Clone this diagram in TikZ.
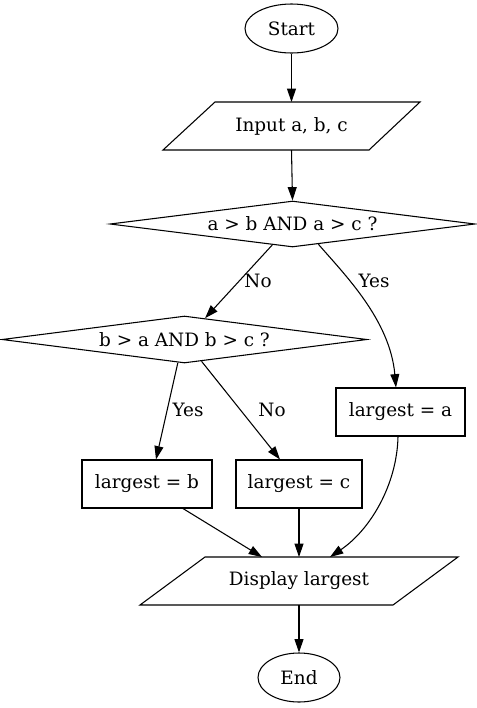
\documentclass[tikz,border=0pt]{standalone}
\usepackage{fontspec}
\setmainfont{DejaVu Serif}
\usetikzlibrary{shapes.geometric,arrows.meta,calc}
\begin{document}
\begin{tikzpicture}[x=0.75pt,y=-0.75pt,
  every node/.style={font=\fontsize{13.8}{16}\selectfont},
  term/.style={draw,ellipse,line width=0.8pt,inner sep=0pt},
  procbox/.style={draw,rectangle,line width=0.8pt,inner sep=0pt,minimum height=36pt},
  decide/.style={draw,diamond,aspect=7.9,inner sep=0pt,line width=0.8pt,minimum width=273.75pt},
  iotext/.style={inner sep=0pt},
  iobox/.style={line width=0.8pt},
  arr/.style={-{Triangle[length=10pt,width=6.7pt]},line width=0.8pt},
  elabel/.style={inner sep=0pt}]
\useasboundingbox (0,0) rectangle (477,708);
% nodes
\node[term,minimum width=69.75pt,minimum height=36.75pt] (start) at (291.5,28.5) {Start};
\node[iotext] (in) at (291.5,126) {Input a, b, c};
\draw[iobox] ($(in)+(-76.5,-24)$) -- ($(in)+(128.5,-24)$) -- ($(in)+(77.5,24)$) -- ($(in)+(-128.5,24)$) -- cycle;
\node[decide,minimum height=34.5pt] (d1) at (292.5,224) {a > b AND a > c ?};
\node[decide,minimum height=35.25pt] (d2) at (184.5,339.5) {b > a AND b > c ?};
\node[procbox,minimum width=96.75pt] (a) at (400.5,412) {largest = a};
\node[procbox,minimum width=97.5pt] (b) at (147,484) {largest = b};
\node[procbox,minimum width=94.5pt] (c) at (299,484) {largest = c};
\node[iotext] (disp) at (299,581) {Display largest};
\draw[iobox] ($(disp)+(-94,-24)$) -- ($(disp)+(159,-24)$) -- ($(disp)+(94,24)$) -- ($(disp)+(-159,24)$) -- cycle;
\node[term,minimum width=61.5pt,minimum height=36.75pt] (end) at (299,677.5) {End};
% connector end points
\coordinate (inN) at ($(in)+(0,-24)$);
\coordinate (inS) at ($(in)+(0,24)$);
\coordinate (aN) at ($(a.north)+(-4.5,0)$);
\coordinate (aS) at ($(a.south)+(-2.5,0)$);
\coordinate (bN) at ($(b.north)+(9,0)$);
\coordinate (bS) at ($(b.south)+(36,0)$);
\coordinate (cN) at ($(c.north)+(-19,0)$);
\coordinate (dispNb) at ($(disp)+(-37,-24)$);
\coordinate (dispNc) at ($(disp)+(0,-24)$);
\coordinate (dispNa) at ($(disp)+(31,-24)$);
\coordinate (dispS) at ($(disp)+(0,24)$);
% connectors
\draw[arr] (start) -- (inN);
\draw[arr] (inS) -- (d1.north);
\draw[arr] (d1.-134) -- (d2.46);
\node[elabel] (no1) at (258,281) {No};
\draw[arr] (d1.-38) .. controls (345,275) and (390,320) .. (aN);
\node[elabel] (yes1) at (374,281) {Yes};
\draw[arr] (d2.-106) -- (bN);
\node[elabel] (yes2) at (188,410) {Yes};
\draw[arr] (d2.-52) -- (cN);
\node[elabel] (no2) at (272,410) {No};
\draw[arr] (bS) -- (dispNb);
\draw[arr] (c.south) -- (dispNc);
\draw[arr] (aS) .. controls (397,485) and (370,530) .. (dispNa);
\draw[arr] (dispS) -- (end);
\end{tikzpicture}
\end{document}
